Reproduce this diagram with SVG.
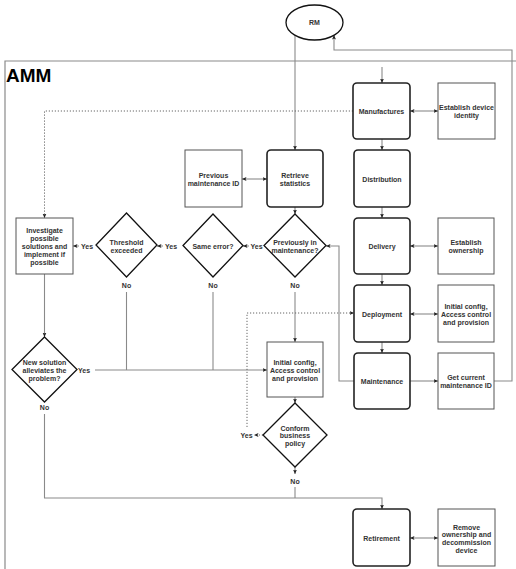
<svg xmlns="http://www.w3.org/2000/svg" width="516" height="569" viewBox="0 0 516 569">
  <style>
    .t { font-family: "Liberation Sans", Arial, sans-serif; font-size: 7px; font-weight: bold; fill: #333; text-anchor: middle; }
    .proc { fill: #fff; stroke: #222; stroke-width: 1.6; }
    .box { fill: #fff; stroke: #555; stroke-width: 1; }
    .dec { fill: #fff; stroke: #111; stroke-width: 1.3; }
    .ln { fill: none; stroke: #8a8a8a; stroke-width: 1.1; }
    .dot { fill: none; stroke: #666; stroke-width: 1; stroke-dasharray: 1.2 1.8; }
    .frame { fill: none; stroke: #8a8a8a; stroke-width: 1.2; }
  </style>
  <defs>
    <marker id="arr" viewBox="0 0 8 8" refX="8" refY="4" markerWidth="4.5" markerHeight="4.5" markerUnits="userSpaceOnUse" orient="auto-start-reverse">
      <path d="M0,0.5 L8,4 L0,7.5 L1.8,4 Z" fill="#222"/>
    </marker>
  </defs>

  <rect x="0" y="0" width="516" height="569" fill="#fff"/>

  <!-- AMM container (open on the right and bottom) -->
  <g id="amm">
    <path class="frame" d="M516,61 H5 V569"/>
    <text x="6" y="82" style="font-family:'Liberation Sans',Arial,sans-serif;font-size:19px;font-weight:bold;fill:#000">AMM</text>
  </g>

  <!-- connectors -->
  <g id="connectors">
    <!-- RM down to Retrieve statistics -->
    <path class="ln" d="M295,35 V150" marker-end="url(#arr)"/>
    <!-- entry into Manufactures -->
    <path class="ln" d="M382,67 V83" marker-end="url(#arr)"/>
    <!-- lifecycle chain -->
    <path class="ln" d="M382,139 V150" marker-end="url(#arr)"/>
    <path class="ln" d="M382,207 V218" marker-end="url(#arr)"/>
    <path class="ln" d="M382,274 V285" marker-end="url(#arr)"/>
    <path class="ln" d="M382,342 V353" marker-end="url(#arr)"/>
    <!-- side tasks -->
    <path class="ln" d="M410,111 H438" marker-start="url(#arr)" marker-end="url(#arr)"/>
    <path class="ln" d="M410,246 H438" marker-start="url(#arr)" marker-end="url(#arr)"/>
    <path class="ln" d="M410,314 H438" marker-start="url(#arr)" marker-end="url(#arr)"/>
    <path class="ln" d="M410,381 H438" marker-end="url(#arr)"/>
    <path class="ln" d="M410,538 H438" marker-start="url(#arr)" marker-end="url(#arr)"/>
    <!-- current maintenance ID back to RM -->
    <path class="ln" d="M494,381 H512 V50 H334 V35" marker-end="url(#arr)"/>
    <!-- Maintenance to Previously in maintenance? -->
    <path class="ln" d="M354,381 H339 V246 H326" marker-end="url(#arr)"/>
    <!-- Retrieve statistics <-> Previous maintenance ID -->
    <path class="ln" d="M267,179 H242" marker-start="url(#arr)" marker-end="url(#arr)"/>
    <!-- Retrieve statistics to Previously in maintenance? -->
    <path class="ln" d="M295,207 V214" marker-end="url(#arr)"/>
    <!-- Yes branches to the left -->
    <path class="ln" d="M249,246 H243" marker-end="url(#arr)"/>
    <text class="t" x="256.5" y="248.5">Yes</text>
    <path class="ln" d="M163,246 H157" marker-end="url(#arr)"/>
    <text class="t" x="171" y="248.5">Yes</text>
    <path class="ln" d="M79,246 H73" marker-end="url(#arr)"/>
    <text class="t" x="87" y="248.5">Yes</text>
    <!-- No branches down to Initial config -->
    <text class="t" x="295" y="287.5">No</text>
    <path class="ln" d="M295,292 V342" marker-end="url(#arr)"/>
    <text class="t" x="213" y="287.5">No</text>
    <path class="ln" d="M213,292 V370"/>
    <text class="t" x="126.5" y="287.5">No</text>
    <path class="ln" d="M126.5,292 V370"/>
    <!-- New solution Yes to Initial config -->
    <text class="t" x="84" y="372.5">Yes</text>
    <path class="ln" d="M95,370 H267" marker-end="url(#arr)"/>
    <!-- Investigate to New solution -->
    <path class="ln" d="M44.5,274 V337" marker-end="url(#arr)"/>
    <!-- Manufactures dotted to Investigate -->
    <path class="dot" d="M353,111 H44.5 V218" marker-end="url(#arr)"/>
    <!-- Initial config to Conform business policy -->
    <path class="ln" d="M295,397 V403" marker-end="url(#arr)"/>
    <!-- Conform Yes back to Deployment -->
    <path class="dot" d="M263,435 H254" marker-end="url(#arr)"/>
    <text class="t" x="246.5" y="437.5">Yes</text>
    <path class="dot" d="M247,427 V313 H354" marker-end="url(#arr)"/>
    <!-- Conform No to Retirement -->
    <path class="ln" d="M295,467 V474" marker-end="url(#arr)"/>
    <text class="t" x="295" y="484">No</text>
    <path class="ln" d="M295,487 V498"/>
    <!-- New solution No to Retirement -->
    <text class="t" x="44.5" y="409.5">No</text>
    <path class="ln" d="M44.5,414 V498 H382 V509" marker-end="url(#arr)"/>
  </g>

  <!-- RM -->
  <g id="rm">
    <ellipse cx="314.5" cy="22.5" rx="28.5" ry="17.5" fill="#fff" stroke="#111" stroke-width="1.3"/>
    <text class="t" x="314.5" y="25">RM</text>
  </g>

  <!-- lifecycle stages -->
  <g id="manufactures">
    <rect class="proc" x="353" y="83" width="57" height="56" rx="4"/>
    <text class="t" x="381.5" y="113.5">Manufactures</text>
  </g>
  <g id="distribution">
    <rect class="proc" x="354" y="150" width="56" height="57" rx="4"/>
    <text class="t" x="382" y="181.5">Distribution</text>
  </g>
  <g id="delivery">
    <rect class="proc" x="354" y="218" width="56" height="56" rx="4"/>
    <text class="t" x="382" y="248.5">Delivery</text>
  </g>
  <g id="deployment">
    <rect class="proc" x="354" y="285" width="56" height="57" rx="4"/>
    <text class="t" x="382" y="316.5">Deployment</text>
  </g>
  <g id="maintenance">
    <rect class="proc" x="354" y="353" width="56" height="56" rx="4"/>
    <text class="t" x="382" y="383.5">Maintenance</text>
  </g>
  <g id="retirement">
    <rect class="proc" x="353" y="509" width="57" height="57" rx="4"/>
    <text class="t" x="381.5" y="540.5">Retirement</text>
  </g>

  <!-- side tasks -->
  <g id="establish-identity">
    <rect class="box" x="438" y="83" width="57" height="56"/>
    <text class="t" x="466.5" y="109.5">Establish device</text>
    <text class="t" x="466.5" y="117.5">identity</text>
  </g>
  <g id="establish-ownership">
    <rect class="box" x="438" y="218" width="56" height="56"/>
    <text class="t" x="466" y="244.5">Establish</text>
    <text class="t" x="466" y="252.5">ownership</text>
  </g>
  <g id="initial-config-side">
    <rect class="box" x="438" y="285" width="56" height="57"/>
    <text class="t" x="466" y="308.5">Initial config,</text>
    <text class="t" x="466" y="316.5">Access control</text>
    <text class="t" x="466" y="324.5">and provision</text>
  </g>
  <g id="get-maintenance-id">
    <rect class="box" x="438" y="353" width="56" height="56"/>
    <text class="t" x="466" y="379.5">Get current</text>
    <text class="t" x="466" y="387.5">maintenance ID</text>
  </g>
  <g id="remove-ownership">
    <rect class="box" x="438" y="509" width="57" height="57"/>
    <text class="t" x="466.5" y="529.5">Remove</text>
    <text class="t" x="466.5" y="537.3">ownership and</text>
    <text class="t" x="466.5" y="545.1">decommission</text>
    <text class="t" x="466.5" y="552.9">device</text>
  </g>

  <!-- maintenance analysis -->
  <g id="retrieve-statistics">
    <rect class="proc" x="267" y="150" width="56" height="57" rx="4"/>
    <text class="t" x="295" y="177.5">Retrieve</text>
    <text class="t" x="295" y="185.5">statistics</text>
  </g>
  <g id="previous-maintenance-id">
    <rect class="box" x="185" y="150" width="57" height="57"/>
    <text class="t" x="213.5" y="177.5">Previous</text>
    <text class="t" x="213.5" y="185.5">maintenance ID</text>
  </g>
  <g id="previously-in-maintenance">
    <polygon class="dec" points="295,214 326,245.5 295,277 264,245.5"/>
    <text class="t" x="295" y="244.5">Previously in</text>
    <text class="t" x="295" y="252.5">maintenance?</text>
  </g>
  <g id="same-error">
    <polygon class="dec" points="213,214 243,245.5 213,277 183,245.5"/>
    <text class="t" x="213" y="249">Same error?</text>
  </g>
  <g id="threshold-exceeded">
    <polygon class="dec" points="126.5,213 157,245 126.5,277 96,245"/>
    <text class="t" x="126.5" y="244.5">Threshold</text>
    <text class="t" x="126.5" y="252.5">exceeded</text>
  </g>
  <g id="investigate">
    <rect class="box" x="16" y="218" width="57" height="56"/>
    <text class="t" x="44.5" y="233">Investigate</text>
    <text class="t" x="44.5" y="241">possible</text>
    <text class="t" x="44.5" y="249">solutions and</text>
    <text class="t" x="44.5" y="257">implement if</text>
    <text class="t" x="44.5" y="265">possible</text>
  </g>
  <g id="new-solution">
    <polygon class="dec" points="44.5,337 77,369.5 44.5,402 12,369.5"/>
    <text class="t" x="44.5" y="364.5">New solution</text>
    <text class="t" x="44.5" y="372.5">alleviates the</text>
    <text class="t" x="44.5" y="380.5">problem?</text>
  </g>
  <g id="initial-config">
    <rect class="box" x="267" y="342" width="56" height="55"/>
    <text class="t" x="295" y="364.5">Initial config,</text>
    <text class="t" x="295" y="372.5">Access control</text>
    <text class="t" x="295" y="380.5">and provision</text>
  </g>
  <g id="conform-policy">
    <polygon class="dec" points="295,403 327,435 295,467 263,435"/>
    <text class="t" x="295" y="430.5">Conform</text>
    <text class="t" x="295" y="438.2">business</text>
    <text class="t" x="295" y="445.9">policy</text>
  </g>
</svg>
